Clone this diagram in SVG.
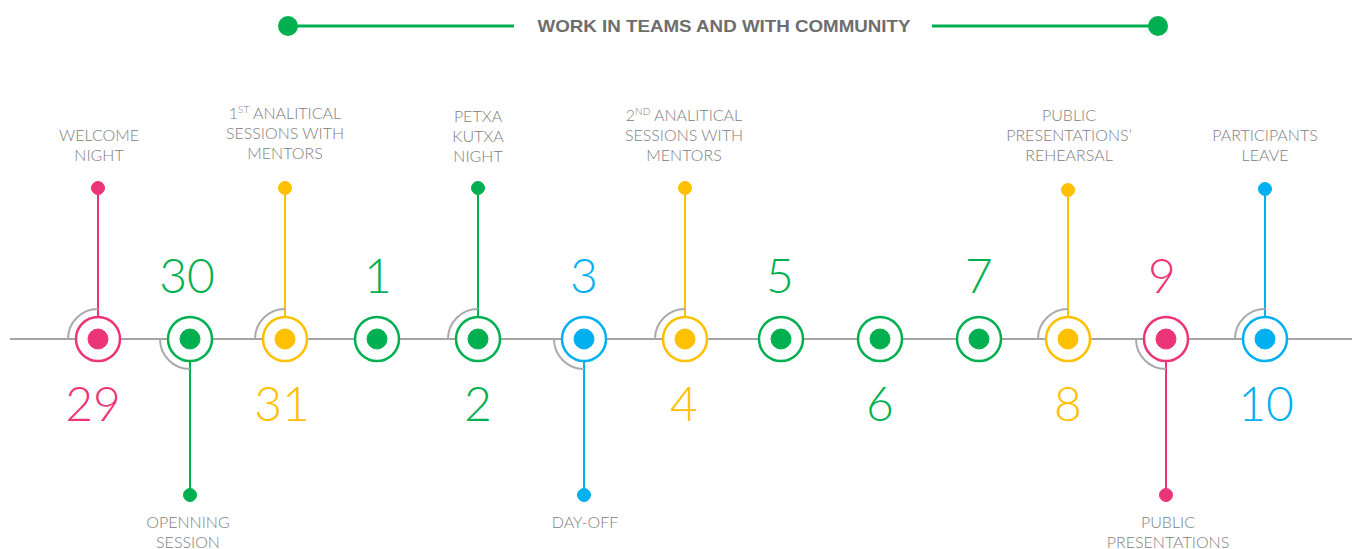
<svg xmlns="http://www.w3.org/2000/svg" width="1352" height="549" viewBox="0 0 1352 549">
<style>
.lbl{font-family:Lato,"Liberation Sans",sans-serif;font-weight:300;font-size:16px;fill:#808080;text-anchor:middle}
.num{font-family:Lato,"Liberation Sans",sans-serif;font-weight:300;font-size:48px;text-anchor:middle}
.arc{fill:none;stroke:#aaaaaa;stroke-width:2}
.pin{stroke-width:2}
.g{stroke:#00b050;fill:#00b050}
.p{stroke:#ec3478;fill:#ec3478}
.y{stroke:#ffc000;fill:#ffc000}
.b{stroke:#00b0f0;fill:#00b0f0}
circle.ring{fill:#ffffff;stroke-width:2.5}
.tg{fill:#00b050}.tp{fill:#ec3478}.ty{fill:#ffc000}.tb{fill:#00b0f0}
.sup{font-size:10px}
</style>
<rect width="1352" height="549" fill="#fff"/>
<g id="header">
<line x1="288" y1="26" x2="514" y2="26" stroke="#00b050" stroke-width="3"/>
<circle cx="288" cy="26" r="10" fill="#00b050"/>
<line x1="932" y1="26" x2="1158" y2="26" stroke="#00b050" stroke-width="3"/>
<circle cx="1158" cy="26" r="10" fill="#00b050"/>
<text x="724" y="32" font-family="'Liberation Sans',Arial,sans-serif" font-weight="bold" font-size="17" fill="#6d6d6d" text-anchor="middle" textLength="373" lengthAdjust="spacingAndGlyphs">WORK IN TEAMS AND WITH COMMUNITY</text>
</g>
<g id="connectors">
<line x1="10" y1="339" x2="1352" y2="339" stroke="#a6a6a6" stroke-width="2"/>
<line class="pin p" x1="98" y1="317" x2="98" y2="188"/>
<line class="pin g" x1="190" y1="361" x2="190" y2="495"/>
<line class="pin y" x1="285" y1="317" x2="285" y2="188"/>
<line class="pin g" x1="478" y1="317" x2="478" y2="188"/>
<line class="pin b" x1="584" y1="361" x2="584" y2="495"/>
<line class="pin y" x1="685" y1="317" x2="685" y2="188"/>
<line class="pin y" x1="1068" y1="317" x2="1068" y2="190"/>
<line class="pin p" x1="1166" y1="361" x2="1166" y2="495"/>
<line class="pin b" x1="1265" y1="317" x2="1265" y2="189"/>
<circle class="p" cx="98" cy="188" r="6.5"/>
<circle class="g" cx="190" cy="495" r="6.5"/>
<circle class="y" cx="285" cy="188" r="6.5"/>
<circle class="g" cx="478" cy="188" r="6.5"/>
<circle class="b" cx="584" cy="495" r="6.5"/>
<circle class="y" cx="685" cy="188" r="6.5"/>
<circle class="y" cx="1068" cy="190" r="6.5"/>
<circle class="p" cx="1166" cy="495" r="6.5"/>
<circle class="b" cx="1265" cy="189" r="6.5"/>
</g>
<g id="n29"><path class="arc" d="M68 339 A30 30 0 0 1 98 309"/><circle class="ring p" cx="98" cy="339" r="22"/><circle class="p" cx="98" cy="339" r="10"/><text class="num tp" x="93" y="421">29</text><text class="lbl" x="99" y="141">WELCOME</text><text class="lbl" x="99" y="161">NIGHT</text></g>
<g id="n30"><path class="arc" d="M160 339 A30 30 0 0 0 190 369"/><circle class="ring g" cx="190" cy="339" r="22"/><circle class="g" cx="190" cy="339" r="10"/><text class="num tg" x="187" y="293">30</text><text class="lbl" x="188" y="528">OPENNING</text><text class="lbl" x="188" y="548">SESSION</text></g>
<g id="n31"><path class="arc" d="M255 339 A30 30 0 0 1 285 309"/><circle class="ring y" cx="285" cy="339" r="22"/><circle class="y" cx="285" cy="339" r="10"/><text class="num ty" x="282" y="421">31</text><text class="lbl" x="285" y="119">1<tspan class="sup" dy="-6">ST</tspan><tspan dy="6"> ANALITICAL</tspan></text><text class="lbl" x="285" y="139">SESSIONS WITH</text><text class="lbl" x="285" y="159">MENTORS</text></g>
<g id="n1"><circle class="ring g" cx="377" cy="339" r="22"/><circle class="g" cx="377" cy="339" r="10"/><text class="num tg" x="378" y="293">1</text></g>
<g id="n2"><path class="arc" d="M448 339 A30 30 0 0 1 478 309"/><circle class="ring g" cx="478" cy="339" r="22"/><circle class="g" cx="478" cy="339" r="10"/><text class="num tg" x="478" y="421">2</text><text class="lbl" x="478" y="122">PETXA</text><text class="lbl" x="478" y="142">KUTXA</text><text class="lbl" x="478" y="162">NIGHT</text></g>
<g id="n3"><path class="arc" d="M554 339 A30 30 0 0 0 584 369"/><circle class="ring b" cx="584" cy="339" r="22"/><circle class="b" cx="584" cy="339" r="10"/><text class="num tb" x="584" y="293">3</text><text class="lbl" x="585" y="528">DAY-OFF</text></g>
<g id="n4"><path class="arc" d="M655 339 A30 30 0 0 1 685 309"/><circle class="ring y" cx="685" cy="339" r="22"/><circle class="y" cx="685" cy="339" r="10"/><text class="num ty" x="684" y="421">4</text><text class="lbl" x="684" y="121">2<tspan class="sup" dy="-6">ND</tspan><tspan dy="6"> ANALITICAL</tspan></text><text class="lbl" x="684" y="141">SESSIONS WITH</text><text class="lbl" x="684" y="161">MENTORS</text></g>
<g id="n5"><circle class="ring g" cx="781" cy="339" r="22"/><circle class="g" cx="781" cy="339" r="10"/><text class="num tg" x="780" y="293">5</text></g>
<g id="n6"><circle class="ring g" cx="880" cy="339" r="22"/><circle class="g" cx="880" cy="339" r="10"/><text class="num tg" x="880" y="421">6</text></g>
<g id="n7"><circle class="ring g" cx="979" cy="339" r="22"/><circle class="g" cx="979" cy="339" r="10"/><text class="num tg" x="979" y="293">7</text></g>
<g id="n8"><path class="arc" d="M1038 339 A30 30 0 0 1 1068 309"/><circle class="ring y" cx="1068" cy="339" r="22"/><circle class="y" cx="1068" cy="339" r="10"/><text class="num ty" x="1068" y="421">8</text><text class="lbl" x="1069" y="121">PUBLIC</text><text class="lbl" x="1069" y="141">PRESENTATIONS’</text><text class="lbl" x="1069" y="161">REHEARSAL</text></g>
<g id="n9"><path class="arc" d="M1136 339 A30 30 0 0 0 1166 369"/><circle class="ring p" cx="1166" cy="339" r="22"/><circle class="p" cx="1166" cy="339" r="10"/><text class="num tp" x="1162" y="293">9</text><text class="lbl" x="1168" y="528">PUBLIC</text><text class="lbl" x="1168" y="548">PRESENTATIONS</text></g>
<g id="n10"><path class="arc" d="M1235 339 A30 30 0 0 1 1265 309"/><circle class="ring b" cx="1265" cy="339" r="22"/><circle class="b" cx="1265" cy="339" r="10"/><text class="num tb" x="1266" y="421">10</text><text class="lbl" x="1265" y="141">PARTICIPANTS</text><text class="lbl" x="1265" y="161">LEAVE</text></g>
</svg>
